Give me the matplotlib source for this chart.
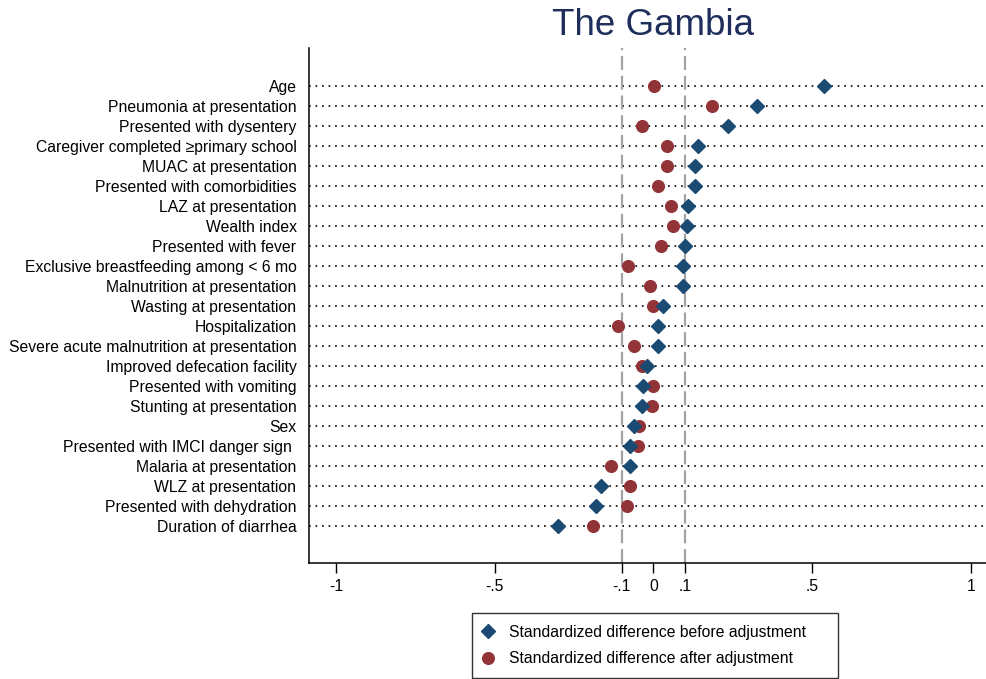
import matplotlib
matplotlib.use("Agg")
import matplotlib.pyplot as plt
from matplotlib.lines import Line2D

plt.rcParams['font.family'] = ['Liberation Sans', 'DejaVu Sans']
plt.rcParams['lines.scale_dashes'] = False

covariates = [
    "Age",
    "Pneumonia at presentation",
    "Presented with dysentery",
    "Caregiver completed \u2265primary school",
    "MUAC at presentation",
    "Presented with comorbidities",
    "LAZ at presentation",
    "Wealth index",
    "Presented with fever",
    "Exclusive breastfeeding among < 6 mo",
    "Malnutrition at presentation",
    "Wasting at presentation",
    "Hospitalization",
    "Severe acute malnutrition at presentation",
    "Improved defecation facility",
    "Presented with vomiting",
    "Stunting at presentation",
    "Sex",
    "Presented with IMCI danger sign ",
    "Malaria at presentation",
    "WLZ at presentation",
    "Presented with dehydration",
    "Duration of diarrhea",
]

before_adj = [0.539, 0.326, 0.236, 0.141, 0.131, 0.131, 0.109, 0.105, 0.101,
              0.095, 0.093, 0.029, 0.016, 0.014, -0.019, -0.032, -0.035,
              -0.060, -0.073, -0.073, -0.165, -0.181, -0.301]
after_adj = [0.001, 0.184, -0.035, 0.044, 0.044, 0.014, 0.055, 0.061, 0.023,
             -0.079, -0.009, -0.002, -0.110, -0.060, -0.037, 0.000, -0.004,
             -0.046, -0.048, -0.133, -0.073, -0.084, -0.189]

xtick_values = [-1, -0.5, -0.1, 0, 0.1, 0.5, 1]
xtick_labels = ["-1", "-.5", "-.1", "0", ".1", ".5", "1"]
thresholds = [-0.1, 0.1]

BLUE = "#1b4a73"
RED = "#923338"
NAVY = "#1f2e5a"
FS = 11.3

W, H = 987, 679
fig = plt.figure(figsize=(W / 100, H / 100), dpi=100)
ax = fig.add_axes([309 / W, 1 - 563 / H, 689 / W, 515 / H])

ypos = list(range(len(covariates)))

# dotted guide line for every covariate
for y in ypos:
    ax.axhline(y, color="black", lw=1.2, linestyle=(0, (1.2, 3.5)),
               dash_capstyle="butt", zorder=1)

# +/- 0.1 reference lines
for t in thresholds:
    ax.axvline(t, color="#a3a3a3", lw=1.6, linestyle=(0, (10, 4.2)), zorder=2)

ax.plot(after_adj, ypos, linestyle="none", marker="o", ms=8.4,
        color=RED, mec=RED, zorder=3)
ax.plot(before_adj, ypos, linestyle="none", marker="D", ms=7.6,
        color=BLUE, mec=BLUE, zorder=4)

ax.set_xlim(-1.085, 1.086)
ax.set_ylim(len(covariates) - 1 + 1.85, -1.9)

ax.set_yticks(ypos)
ax.set_yticklabels(covariates, fontsize=FS)
ax.tick_params(axis="y", length=0, pad=9)
ax.set_xticks(xtick_values)
ax.set_xticklabels(xtick_labels, fontsize=FS)
ax.tick_params(axis="x", length=7.2, width=1.0, pad=4)

for side in ("top", "right"):
    ax.spines[side].set_visible(False)
for side in ("left", "bottom"):
    ax.spines[side].set_linewidth(1.1)

fig.text(653.5 / W, 1 - 35 / H, "The Gambia", ha="center", va="baseline",
         fontsize=26.5, color=NAVY)

handles = [
    Line2D([], [], linestyle="none", marker="D", ms=7.6, color=BLUE),
    Line2D([], [], linestyle="none", marker="o", ms=8.4, color=RED),
]
leg = fig.legend(handles,
                 ["Standardized difference before adjustment",
                  "Standardized difference after adjustment"],
                 loc="center", mode="expand", borderaxespad=0,
                 bbox_to_anchor=(472 / W, 1 - 678 / H, 366 / W, 65 / H),
                 fontsize=FS, frameon=True, fancybox=False,
                 edgecolor="black", handlelength=0.6, handletextpad=1.03,
                 labelspacing=0.75, borderpad=0.72)
leg.get_frame().set_linewidth(1.0)

fig.savefig("out.png", dpi=100)
